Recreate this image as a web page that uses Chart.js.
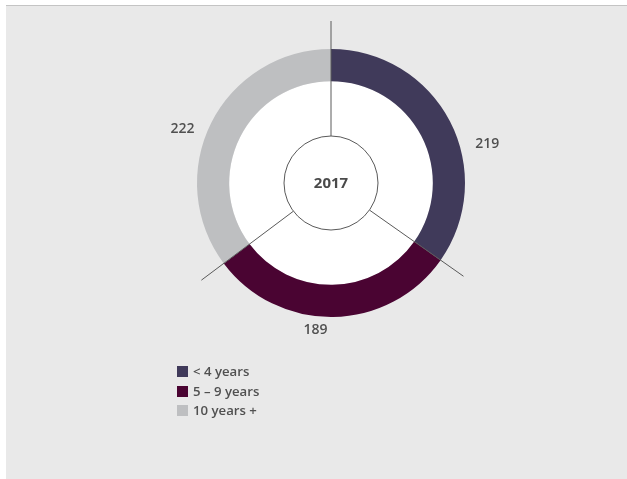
<!DOCTYPE html>
<html>
<head>
<meta charset="utf-8">
<script src="https://cdn.jsdelivr.net/npm/chart.js@4.4.1/dist/chart.umd.min.js"></script>
<style>
  html, body { margin: 0; padding: 0; background: #fff; }
  #wrap { position: relative; width: 627px; height: 479px; }
  #panel { position: absolute; left: 6px; top: 5px; right: 0; bottom: 0; background: #e9e9e9; border-top: 1px solid #c4c4c4; }
  #chart { position: absolute; left: 0; top: 0; }
  #legend { position: absolute; left: 177px; top: 362px; font-family: "Open Sans", sans-serif; font-weight: 600; font-size: 13.2px; color: #505050; }
  #legend div { height: 19.5px; line-height: 19.5px; white-space: nowrap; }
  #legend span { display: inline-block; width: 11px; height: 11px; margin-right: 5px; vertical-align: -1px; }
</style>
</head>
<body>
<div id="wrap">
  <div id="panel"></div>
  <canvas id="chart" width="627" height="479"></canvas>
  <div id="legend"></div>
</div>
<script>
const categories = ['< 4 years', '5 – 9 years', '10 years +'];
const values = [219, 189, 222];
const colors = ['#403a5a', '#4a0432', '#bebfc1'];
const yearLabel = '2017';

// legend
const legend = document.getElementById('legend');
categories.forEach((c, i) => {
  let row = document.createElement('div');
  let sw = document.createElement('span');
  sw.style.background = colors[i];
  row.appendChild(sw);
  row.appendChild(document.createTextNode(c));
  legend.appendChild(row);
});

// white inner disc, centre ring, spokes and value labels
const donutDecor = {
  id: 'donutDecor',
  beforeDatasetsDraw(chart) {
    const arc = chart.getDatasetMeta(0).data[0];
    const ctx = chart.ctx;
    ctx.save();
    ctx.fillStyle = '#fff';
    ctx.beginPath();
    ctx.arc(arc.x, arc.y, arc.innerRadius, 0, Math.PI * 2);
    ctx.fill();
    ctx.restore();
  },
  afterDatasetsDraw(chart, args, opts) {
    const meta = chart.getDatasetMeta(0);
    const arc = meta.data[0];
    const cx = arc.x, cy = arc.y;
    const ctx = chart.ctx;
    ctx.save();
    ctx.strokeStyle = '#5a5a5a';
    ctx.lineWidth = 1;
    // spokes at every segment start
    meta.data.forEach(a => {
      const ang = a.startAngle;
      ctx.beginPath();
      ctx.moveTo(cx + opts.ringRadius * Math.cos(ang), cy + opts.ringRadius * Math.sin(ang));
      ctx.lineTo(cx + opts.spokeRadius * Math.cos(ang), cy + opts.spokeRadius * Math.sin(ang));
      ctx.stroke();
    });
    // centre ring
    ctx.fillStyle = '#fff';
    ctx.beginPath();
    ctx.arc(cx, cy, opts.ringRadius, 0, Math.PI * 2);
    ctx.fill();
    ctx.stroke();
    ctx.fillStyle = '#4a4a4a';
    ctx.font = 'bold 15px "Open Sans", sans-serif';
    ctx.textAlign = 'center';
    ctx.textBaseline = 'middle';
    ctx.fillText(yearLabel, cx, cy + 1);
    // values
    ctx.font = '600 14px "Open Sans", sans-serif';
    ctx.fillStyle = '#505050';
    values.forEach((v, i) => {
      const deg = opts.labelAngles[i] * Math.PI / 180;
      const r = opts.labelRadius[i];
      ctx.fillText(String(v), cx + r * Math.sin(deg), cy - r * Math.cos(deg));
    });
    ctx.restore();
  }
};

new Chart(document.getElementById('chart'), {
  type: 'doughnut',
  data: {
    labels: categories,
    datasets: [{
      data: values,
      backgroundColor: colors,
      borderWidth: 0,
      hoverOffset: 0
    }]
  },
  options: {
    responsive: false,
    animation: false,
    cutout: '76%',
    layout: { padding: { left: 197, top: 49, right: 162, bottom: 162 } },
    plugins: {
      legend: { display: false },
      tooltip: { enabled: false },
      donutDecor: {
        ringRadius: 47,
        spokeRadius: 162,
        labelAngles: [76, 186, 290],
        labelRadius: [161, 148, 158]
      }
    }
  },
  plugins: [donutDecor]
});
</script>
</body>
</html>
